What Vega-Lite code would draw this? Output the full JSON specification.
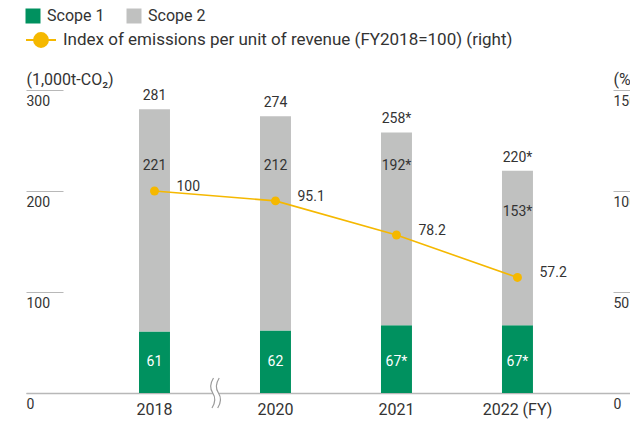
{
  "$schema": "https://vega.github.io/schema/vega-lite/v6.json",
  "width": 604,
  "height": 303,
  "autosize": "none",
  "padding": {"left": 26, "top": 90, "right": 0, "bottom": 30},
  "background": "white",
  "config": {
    "view": {"stroke": null},
    "font": "Roboto",
    "text": {"font": "Roboto", "color": "#333333", "fontSize": 14}
  },
  "data": {
    "values": [
      {"year": "2018", "scope1": 61, "scope2": 221, "total": 281, "index": 100, "s1": "61", "s2": "221", "tot": "281", "idx": "100"},
      {"year": "2020", "scope1": 62, "scope2": 212, "total": 274, "index": 95.1, "s1": "62", "s2": "212", "tot": "274", "idx": "95.1"},
      {"year": "2021", "scope1": 67, "scope2": 192, "total": 258, "index": 78.2, "s1": "67*", "s2": "192*", "tot": "258*", "idx": "78.2"},
      {"year": "2022 (FY)", "scope1": 67, "scope2": 153, "total": 220, "index": 57.2, "s1": "67*", "s2": "153*", "tot": "220*", "idx": "57.2"}
    ]
  },
  "encoding": {
    "x": {
      "field": "year",
      "type": "nominal",
      "sort": null,
      "scale": {"paddingInner": 0.744, "paddingOuter": 0.868, "align": 0.538},
      "axis": {
        "title": null,
        "labelAngle": 0,
        "ticks": false,
        "domain": true,
        "domainColor": "#b8b8b8",
        "domainWidth": 1.5,
        "labelPadding": 8,
        "labelFontSize": 16,
        "labelColor": "#333333",
        "labelFont": "Roboto"
      }
    }
  },
  "layer": [
    {
      "layer": [
        {
          "mark": {"type": "bar"},
          "encoding": {
            "y": {
              "field": "scope1",
              "type": "quantitative",
              "scale": {"domain": [0, 300], "nice": false},
              "axis": {
                "orient": "left",
                "offset": -37,
                "domain": false,
                "grid": false,
                "values": [0, 100, 200, 300],
                "tickSize": 37,
                "tickColor": "#b8b8b8",
                "tickWidth": 1,
                "labelAlign": "left",
                "labelBaseline": "top",
                "labelPadding": 0,
                "labelOffset": 4,
                "labelFontSize": 14,
                "labelColor": "#333333",
                "labelFont": "Roboto",
                "title": "(1,000t-CO₂)",
                "titleAngle": 0,
                "titleX": -37,
                "titleY": -6,
                "titleAlign": "left",
                "titleBaseline": "alphabetic",
                "titleFontWeight": "normal",
                "titleFontSize": 16,
                "titleColor": "#333333",
                "titleFont": "Roboto"
              }
            },
            "color": {
              "datum": "Scope 1",
              "type": "nominal",
              "scale": {"domain": ["Scope 1", "Scope 2"], "range": ["#00915f", "#c0c1c0"]},
              "legend": {
                "title": null,
                "orient": "none",
                "legendX": -1,
                "legendY": -82,
                "direction": "horizontal",
                "symbolType": "square",
                "symbolSize": 225,
                "symbolStrokeWidth": 0,
                "labelFontSize": 16,
                "labelColor": "#333333",
                "labelFont": "Roboto",
                "labelOffset": 6,
                "labelLimit": 0,
                "columnPadding": 21,
                "encode": {
                  "symbols": {
                    "update": {
                      "fill": [
                        {"test": "datum.label === 'Scope 1'", "value": "#00a984"},
                        {"value": "#c0c1c0"}
                      ],
                      "fillOpacity": {"value": 1}
                    }
                  }
                }
              }
            }
          }
        },
        {
          "mark": {"type": "bar"},
          "encoding": {
            "y": {"field": "scope1", "type": "quantitative"},
            "y2": {"field": "total"},
            "color": {"datum": "Scope 2", "type": "nominal"}
          }
        },
        {
          "mark": {"type": "text", "baseline": "middle", "dy": -13},
          "encoding": {
            "y": {"field": "total", "type": "quantitative"},
            "text": {"field": "tot"}
          }
        },
        {
          "transform": [{"filter": "datum.year !== '2022 (FY)'"}],
          "mark": {"type": "text", "baseline": "middle"},
          "encoding": {
            "y": {"datum": 225, "type": "quantitative"},
            "text": {"field": "s2"}
          }
        },
        {
          "transform": [{"filter": "datum.year === '2022 (FY)'"}],
          "mark": {"type": "text", "baseline": "middle", "dy": 41},
          "encoding": {
            "y": {"field": "total", "type": "quantitative"},
            "text": {"field": "s2"}
          }
        },
        {
          "mark": {"type": "text", "baseline": "middle", "color": "white"},
          "encoding": {
            "y": {"datum": 30.5, "type": "quantitative"},
            "text": {"field": "s1"}
          }
        },
        {
          "transform": [{"filter": "datum.year === '2018'"}],
          "mark": {
            "type": "point",
            "filled": true,
            "fill": "white",
            "strokeWidth": 0,
            "opacity": 1,
            "size": 900,
            "xOffset": 62,
            "shape": "M-0.2,-1 C-0.45,-0.6 -0.45,-0.3 -0.25,0 C-0.05,0.3 -0.05,0.6 -0.3,1 L0.08,1 C0.33,0.6 0.33,0.3 0.13,0 C-0.07,-0.3 -0.07,-0.6 0.18,-1 Z"
          },
          "encoding": {
            "y": {"datum": 0, "type": "quantitative"}
          }
        },
        {
          "transform": [{"filter": "datum.year === '2018'"}],
          "mark": {
            "type": "point",
            "filled": false,
            "stroke": "#9a9a9a",
            "strokeWidth": 1.2,
            "opacity": 1,
            "size": 900,
            "xOffset": 62,
            "shape": "M-0.2,-1 C-0.45,-0.6 -0.45,-0.3 -0.25,0 C-0.05,0.3 -0.05,0.6 -0.3,1 M0.18,-1 C-0.07,-0.6 -0.07,-0.3 0.13,0 C0.33,0.3 0.33,0.6 0.08,1"
          },
          "encoding": {
            "y": {"datum": 0, "type": "quantitative"}
          }
        }
      ]
    },
    {
      "layer": [
        {
          "mark": {"type": "line", "strokeWidth": 1.6},
          "encoding": {
            "y": {
              "field": "index",
              "type": "quantitative",
              "scale": {"domain": [0, 150], "nice": false},
              "axis": {
                "orient": "right",
                "offset": -17,
                "domain": false,
                "grid": false,
                "values": [0, 50, 100, 150],
                "tickSize": 20,
                "tickColor": "#b8b8b8",
                "tickWidth": 1,
                "labelAlign": "left",
                "labelBaseline": "top",
                "labelPadding": -20,
                "labelOffset": 4,
                "labelFontSize": 14,
                "labelColor": "#333333",
                "labelFont": "Roboto",
                "title": "(%)",
                "titleAngle": 0,
                "titleX": 0,
                "titleY": -6,
                "titleAlign": "left",
                "titleBaseline": "alphabetic",
                "titleFontWeight": "normal",
                "titleFontSize": 16,
                "titleColor": "#333333",
                "titleFont": "Roboto"
              }
            },
            "stroke": {
              "datum": "Index of emissions per unit of revenue (FY2018=100) (right)",
              "type": "nominal",
              "scale": {"range": ["#f5b800"]},
              "legend": {
                "title": null,
                "orient": "none",
                "legendX": -1,
                "legendY": -66,
                "symbolType": "M-1,0 L1,0 M0.47,0 A0.47,0.47 0 1 1 -0.47,0 A0.47,0.47 0 1 1 0.47,0 Z",
                "symbolSize": 900,
                "symbolStrokeWidth": 1.8,
                "labelFontSize": 17,
                "labelColor": "#333333",
                "labelFont": "Roboto",
                "labelOffset": 6,
                "labelLimit": 0,
                "encode": {
                  "symbols": {
                    "update": {
                      "fill": {"value": "#f5b800"},
                      "stroke": {"value": "#f5b800"},
                      "fillOpacity": {"value": 1}
                    }
                  }
                }
              }
            }
          }
        },
        {
          "mark": {"type": "point", "filled": true, "color": "#f5b800", "size": 80, "opacity": 1},
          "encoding": {
            "y": {"field": "index", "type": "quantitative"}
          }
        },
        {
          "mark": {"type": "text", "align": "left", "baseline": "middle", "dx": 22, "dy": -4},
          "encoding": {
            "y": {"field": "index", "type": "quantitative"},
            "text": {"field": "idx"}
          }
        }
      ]
    }
  ],
  "resolve": {"scale": {"y": "independent"}}
}
